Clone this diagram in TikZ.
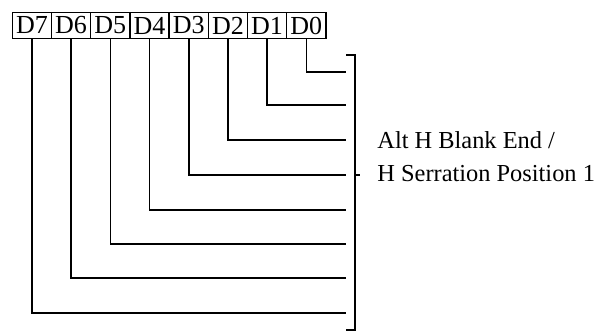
\documentclass[tikz,border=0pt]{standalone}
\usepackage{fontspec}
\setmainfont{Liberation Serif}
\begin{document}
\begin{tikzpicture}[x=0.5pt,y=-0.5pt,
  bitbox/.style={draw,line width=0.7pt,minimum width=19.6pt,minimum height=12.8pt,inner sep=0pt,outer sep=0pt,font=\fontsize{13}{15}\selectfont},
  wire/.style={line width=0.8pt},
  lbl/.style={anchor=base west,inner sep=0pt,font=\fontsize{12.2}{14}\selectfont}]
\useasboundingbox (0,0) rectangle (609,331);
\foreach \i/\n in {0/7,1/6,2/5,3/4,4/3,5/2,6/1,7/0}{
  \node[bitbox] (d\n) at ({31.9+39.2*\i},25.5) {D\n};
}
\foreach \n/\y in {0/72,1/105,2/140,3/175,4/210,5/244,6/278,7/313}{
  \coordinate (e\n) at (346,\y);
  \draw[wire] (d\n.south) |- (e\n);
}
\coordinate (bt) at (346,55);
\coordinate (bb) at (346,330);
\coordinate (bm) at (355,175);
\coordinate (bmr) at (360,175);
\draw[wire] (bt) -- (355,55) -- (355,330) -- (bb);
\draw[wire] (bm) -- (bmr);
\node[lbl] (l1) at (377,149) {Alt H Blank End /};
\node[lbl] (l2) at (377,181.5) {H Serration Position 1};
\end{tikzpicture}
\end{document}
